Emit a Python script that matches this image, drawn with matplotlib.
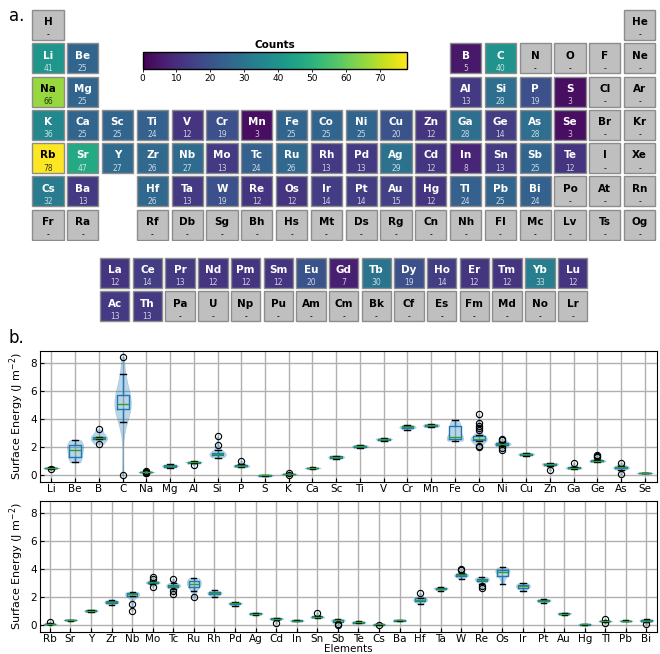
import numpy as np
import matplotlib
matplotlib.use("Agg")
import matplotlib.pyplot as plt
from matplotlib.patches import Rectangle
from matplotlib.colors import Normalize
from matplotlib.cm import ScalarMappable

# Element symbols in order of atomic number (Z = 1..118)
symbols = ("H He Li Be B C N O F Ne Na Mg Al Si P S Cl Ar K Ca Sc Ti V Cr Mn Fe Co Ni "
           "Cu Zn Ga Ge As Se Br Kr Rb Sr Y Zr Nb Mo Tc Ru Rh Pd Ag Cd In Sn Sb Te I Xe "
           "Cs Ba La Ce Pr Nd Pm Sm Eu Gd Tb Dy Ho Er Tm Yb Lu Hf Ta W Re Os Ir Pt Au Hg "
           "Tl Pb Bi Po At Rn Fr Ra Ac Th Pa U Np Pu Am Cm Bk Cf Es Fm Md No Lr Rf Db Sg "
           "Bh Hs Mt Ds Rg Cn Nh Fl Mc Lv Ts Og").split()

# Number of surfaces per element
counted_symbols = ["Li", "Be", "B", "C", "Na", "Mg", "Al", "Si", "P", "S",
                   "K", "Ca", "Sc", "Ti", "V", "Cr", "Mn", "Fe", "Co", "Ni", "Cu", "Zn",
                   "Ga", "Ge", "As", "Se",
                   "Rb", "Sr", "Y", "Zr", "Nb", "Mo", "Tc", "Ru", "Rh", "Pd", "Ag", "Cd",
                   "In", "Sn", "Sb", "Te",
                   "Cs", "Ba", "Hf", "Ta", "W", "Re", "Os", "Ir", "Pt", "Au", "Hg",
                   "Tl", "Pb", "Bi",
                   "La", "Ce", "Pr", "Nd", "Pm", "Sm", "Eu", "Gd", "Tb", "Dy", "Ho",
                   "Er", "Tm", "Yb", "Lu", "Ac", "Th"]
counts = [41, 25, 5, 40, 66, 25, 13, 28, 19, 3,
          36, 25, 25, 24, 12, 19, 3, 25, 25, 25, 20, 12,
          28, 14, 28, 3,
          78, 47, 27, 26, 27, 13, 24, 26, 13, 13, 29, 12,
          8, 13, 25, 12,
          32, 13, 26, 13, 19, 12, 12, 14, 14, 15, 12,
          24, 25, 24,
          12, 14, 13, 12, 12, 12, 20, 7, 30, 19, 14,
          12, 12, 33, 12, 13, 13]

# Surface energies (J m^-2) for each element
top_elements = ["Li", "Be", "B", "C", "Na", "Mg", "Al", "Si", "P", "S", "K", "Ca", "Sc",
                "Ti", "V", "Cr", "Mn", "Fe", "Co", "Ni", "Cu", "Zn", "Ga", "Ge", "As", "Se"]
top_energies = [
    [0.43, 0.48, 0.51, 0.52, 0.53, 0.54, 0.55, 0.56, 0.57],
    [0.93, 1.1, 1.28, 1.6, 1.83, 2.0, 2.14, 2.35, 2.52],
    [2.23, 2.62, 2.68, 2.72, 3.28],
    [0.0, 3.8, 4.5, 4.7, 4.8, 4.9, 5.0, 5.1, 5.2, 5.4, 5.7, 5.8, 6.3, 7.2, 8.45],
    [0.17, 0.2, 0.23, 0.235, 0.24, 0.24, 0.245, 0.25, 0.25, 0.28, 0.31],
    [0.52, 0.6, 0.63, 0.66, 0.68, 0.7, 0.72, 0.75, 0.78],
    [0.76, 0.88, 0.92, 0.94, 0.95, 0.96, 0.98, 0.99, 1.0],
    [1.27, 1.35, 1.45, 1.46, 1.5, 1.51, 1.52, 1.55, 1.58, 1.6, 1.78, 2.14, 2.78],
    [0.58, 0.62, 0.65, 0.68, 0.69, 0.7, 0.72, 0.78, 1.02],
    [-0.02, 0.0, 0.02],
    [0.05, 0.09, 0.095, 0.1, 0.1, 0.1, 0.105, 0.11, 0.11, 0.12, 0.16],
    [0.47, 0.49, 0.5, 0.52, 0.53, 0.54, 0.55, 0.56, 0.57],
    [1.2, 1.24, 1.27, 1.29, 1.31, 1.33, 1.35, 1.37, 1.39],
    [1.95, 2.0, 2.03, 2.06, 2.08, 2.1, 2.13, 2.17, 2.2],
    [2.45, 2.5, 2.53, 2.56, 2.58, 2.6, 2.62, 2.65, 2.68],
    [3.25, 3.33, 3.39, 3.42, 3.44, 3.47, 3.5, 3.56, 3.61],
    [3.45, 3.56, 3.67],
    [2.47, 2.55, 2.6, 2.62, 2.65, 2.75, 3.2, 3.5, 3.55, 3.6, 3.97],
    [2.05, 2.12, 2.42, 2.45, 2.48, 2.5, 2.52, 2.55, 2.57, 2.58, 2.6, 2.6, 2.61,
     2.62, 2.64, 2.66, 2.68, 2.72, 2.78, 2.85, 3.25, 3.4, 3.55, 3.7, 4.37],
    [1.8, 1.95, 2.1, 2.18, 2.2, 2.23, 2.26, 2.27, 2.29, 2.31, 2.36, 2.52, 2.61],
    [1.38, 1.44, 1.48, 1.5, 1.52, 1.54, 1.56, 1.6, 1.63],
    [0.36, 0.7, 0.76, 0.79, 0.81, 0.83, 0.85, 0.88, 0.9],
    [0.48, 0.51, 0.53, 0.54, 0.55, 0.56, 0.57, 0.6, 0.88],
    [0.95, 0.98, 1.0, 1.01, 1.02, 1.04, 1.05, 1.05, 1.06, 1.07, 1.08, 1.3, 1.38, 1.47],
    [0.1, 0.4, 0.5, 0.52, 0.55, 0.57, 0.58, 0.6, 0.62, 0.7, 0.9],
    [0.15, 0.17, 0.19],
]

bottom_elements = ["Rb", "Sr", "Y", "Zr", "Nb", "Mo", "Tc", "Ru", "Rh", "Pd", "Ag", "Cd",
                   "In", "Sn", "Sb", "Te", "Cs", "Ba", "Hf", "Ta", "W", "Re", "Os", "Ir",
                   "Pt", "Au", "Hg", "Tl", "Pb", "Bi"]
bottom_energies = [
    [0.08, 0.1, 0.11, 0.12, 0.12, 0.13, 0.13, 0.14, 0.24],
    [0.35, 0.37, 0.38, 0.39, 0.39, 0.4, 0.41, 0.42],
    [0.95, 0.98, 1.0, 1.02, 1.04, 1.06, 1.08, 1.1, 1.13],
    [1.45, 1.55, 1.6, 1.63, 1.65, 1.68, 1.72, 1.75, 1.78],
    [1.04, 1.53, 2.06, 2.12, 2.17, 2.2, 2.24, 2.25, 2.27, 2.29, 2.3, 2.34, 2.37],
    [2.74, 2.95, 3.0, 3.02, 3.04, 3.06, 3.07, 3.08, 3.1, 3.12, 3.15, 3.3, 3.44],
    [2.25, 2.42, 2.58, 2.72, 2.76, 2.78, 2.8, 2.83, 2.85, 2.87, 2.9, 2.92, 2.95, 3.0, 3.32],
    [1.99, 2.42, 2.7, 2.76, 2.85, 2.95, 3.05, 3.15, 3.22, 3.3, 3.37],
    [2.03, 2.15, 2.22, 2.27, 2.3, 2.33, 2.38, 2.45, 2.5],
    [1.4, 1.47, 1.52, 1.55, 1.57, 1.59, 1.62, 1.64, 1.65],
    [0.72, 0.77, 0.8, 0.83, 0.85, 0.86, 0.88, 0.9, 0.92],
    [0.17, 0.4, 0.44, 0.46, 0.48, 0.5, 0.52, 0.53, 0.55],
    [0.31, 0.33, 0.34, 0.34, 0.35, 0.36, 0.37, 0.38],
    [0.52, 0.55, 0.57, 0.59, 0.6, 0.62, 0.64, 0.67, 0.92],
    [0.02, 0.07, 0.22, 0.28, 0.31, 0.33, 0.36, 0.38, 0.4, 0.41, 0.43, 0.44, 0.46],
    [0.17, 0.19, 0.21, 0.23, 0.24, 0.25, 0.27, 0.29, 0.31],
    [0.03, 0.06, 0.065, 0.07, 0.07, 0.075, 0.08, 0.085],
    [0.33, 0.34, 0.35, 0.36, 0.36, 0.37, 0.38],
    [1.52, 1.66, 1.74, 1.78, 1.82, 1.86, 1.9, 1.94, 1.97, 2.3],
    [2.45, 2.52, 2.57, 2.6, 2.62, 2.65, 2.68, 2.7, 2.72],
    [3.3, 3.45, 3.5, 3.53, 3.56, 3.58, 3.6, 3.64, 3.68, 3.72, 3.95, 4.02],
    [2.64, 2.78, 2.95, 3.15, 3.18, 3.22, 3.26, 3.28, 3.3, 3.34, 3.36, 3.42, 3.45],
    [2.95, 3.3, 3.5, 3.55, 3.7, 3.78, 3.82, 3.9, 3.95, 4.0, 4.05, 4.14],
    [2.42, 2.6, 2.7, 2.75, 2.78, 2.84, 2.9, 2.97, 3.03],
    [1.6, 1.68, 1.72, 1.75, 1.77, 1.8, 1.83, 1.86, 1.88],
    [0.72, 0.75, 0.78, 0.82, 0.85, 0.86, 0.88, 0.9, 0.92],
    [0.05, 0.06, 0.06, 0.07, 0.07, 0.07, 0.08, 0.08, 0.09],
    [0.2, 0.27, 0.29, 0.3, 0.31, 0.32, 0.33, 0.34, 0.45],
    [0.3, 0.32, 0.33, 0.34, 0.34, 0.35, 0.36, 0.37],
    [0.1, 0.25, 0.3, 0.32, 0.34, 0.37, 0.4, 0.43, 0.45],
]

W, H = 660, 654


def px_rect(x, y, w, h):
    # convert a pixel box (top-left origin) into figure fractions
    return [x / W, 1 - (y + h) / H, w / W, h / H]


def table_position(z):
    # returns (block, column, row); block 0 is the main table, block 1 the f-block rows
    if z == 1:
        return 0, 0, 0
    if z == 2:
        return 0, 17, 0
    if z <= 18:
        row = 1 if z <= 10 else 2
        k = z - (3 if z <= 10 else 11)
        return 0, (k if k < 2 else k + 10), row
    if z <= 54:
        row = 3 if z <= 36 else 4
        return 0, z - (19 if z <= 36 else 37), row
    start, row = (55, 5) if z <= 86 else (87, 6)
    k = z - start
    if k < 2:
        return 0, k, row
    if k < 17:
        return 1, k - 2, row - 5
    return 0, k - 14, row


fig = plt.figure(figsize=(W / 100, H / 100), dpi=100)

# ---- a. periodic table ----
count_of = dict(zip(counted_symbols, counts))
norm = Normalize(vmin=0, vmax=max(counts))
cmap = plt.get_cmap("viridis")

ax_main = fig.add_axes(px_rect(30.6, 8.3, 18 * 34.8, 7 * 33.3))
ax_main.set_xlim(0, 18)
ax_main.set_ylim(7, 0)
ax_f = fig.add_axes(px_rect(98.4, 256.3, 15 * 32.7, 2 * 33.3))
ax_f.set_xlim(0, 15)
ax_f.set_ylim(2, 0)
for a in (ax_main, ax_f):
    a.axis("off")

for z, sym in enumerate(symbols, start=1):
    block, col, row = table_position(z)
    a = ax_main if block == 0 else ax_f
    n = count_of.get(sym)
    if n is None:
        face = "#bfbfbf"
        txt = "black"
        label = "-"
    else:
        face = cmap(norm(n))
        lum = 0.299 * face[0] + 0.587 * face[1] + 0.114 * face[2]
        txt = "black" if lum > 0.5 else "white"
        label = str(n)
    a.add_patch(Rectangle((col + 0.05, row + 0.05), 0.9, 0.9, facecolor=face,
                          edgecolor="#8c8c8c", linewidth=1.0))
    a.text(col + 0.5, row + 0.42, sym, ha="center", va="center",
           fontsize=7.5, fontweight="bold", color=txt)
    a.text(col + 0.5, row + 0.8, label, ha="center", va="center",
           fontsize=5.5, color=txt, alpha=0.75 if n is not None else 1.0)

cax = fig.add_axes(px_rect(142.5, 52, 264.5, 17))
cb = fig.colorbar(ScalarMappable(norm=norm, cmap=cmap), cax=cax, orientation="horizontal")
cb.set_ticks(np.arange(0, 80, 10))
cb.ax.tick_params(labelsize=6.5, length=2, width=0.6, pad=1.5)
cb.outline.set_linewidth(1.0)
cax.set_title("Counts", fontsize=7.5, fontweight="bold", pad=3)

fig.text(9 / W, 1 - 21 / H, "a.", fontsize=12, va="baseline")
fig.text(9 / W, 1 - 343 / H, "b.", fontsize=12, va="baseline")

# ---- b. surface energy distributions ----
ax_top = fig.add_axes(px_rect(39.5, 350.7, 617.2, 131))
ax_bot = fig.add_axes(px_rect(39.5, 500.7, 617.2, 131))
ax_bot.sharey(ax_top)

for ax, names, data in ((ax_top, top_elements, top_energies),
                        (ax_bot, bottom_elements, bottom_energies)):
    pos = np.arange(1, len(names) + 1)
    parts = ax.violinplot(data, positions=pos, widths=0.7, showextrema=False)
    for body in parts["bodies"]:
        body.set_facecolor("#1f77b4")
        body.set_edgecolor("#1f77b4")
        body.set_linewidth(0.4)
        body.set_alpha(0.3)
    ax.boxplot(data, positions=pos, widths=0.5,
               boxprops=dict(color="#1f77b4", linewidth=1.0),
               whiskerprops=dict(color="#1f77b4", linewidth=1.0),
               capprops=dict(color="black", linewidth=1.0),
               medianprops=dict(color="#2ca02c", linewidth=1.0),
               flierprops=dict(marker="o", markerfacecolor="none",
                               markeredgecolor="black", markersize=4.5, markeredgewidth=0.8))
    ax.set_xticks(pos)
    ax.set_xticklabels(names)
    ax.set_xlim(0.5, len(names) + 0.5)
    ax.grid(True, color="#b0b0b0", linewidth=1.0)
    ax.set_axisbelow(True)
    ax.tick_params(direction="in", labelsize=7.5, length=3, pad=2)
    ax.set_ylabel("Surface Energy (J m$^{-2}$)", fontsize=8, labelpad=3)

ax_top.set_yticks([0, 2, 4, 6, 8])
ax_bot.set_xlabel("Elements", fontsize=7.5, labelpad=0)

fig.savefig("out.png", dpi=100)
